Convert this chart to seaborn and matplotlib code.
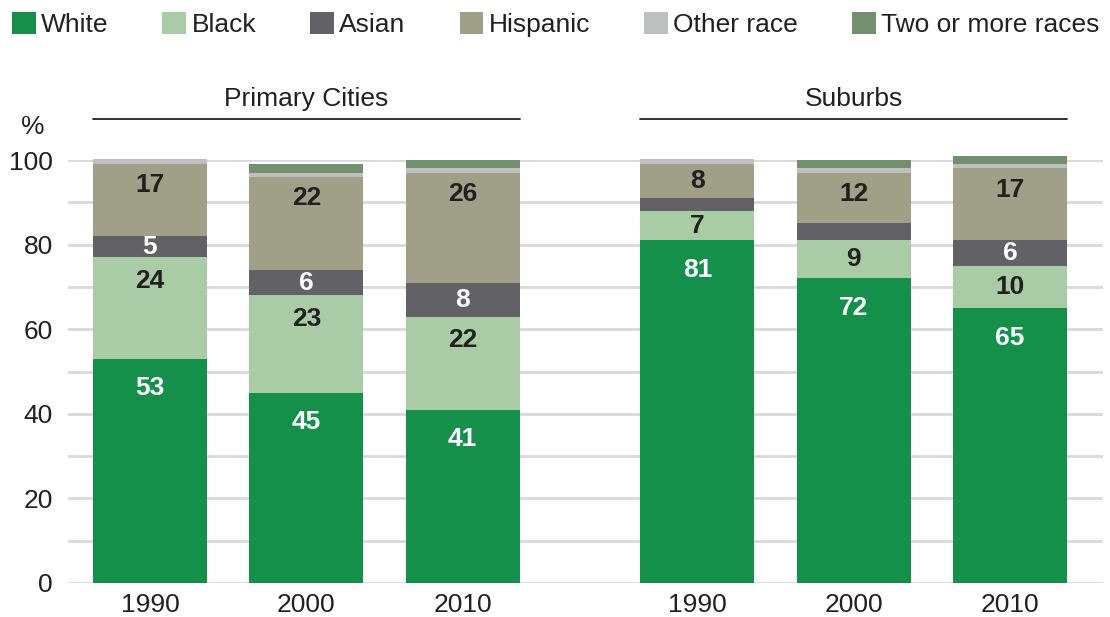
import pandas as pd
import matplotlib.pyplot as plt
import seaborn as sns
from matplotlib.patches import Patch

# ── Data (percent of population by race/ethnicity) ─────────────────────────
groups = ["Primary Cities", "Suburbs"]
years = ["1990", "2000", "2010", "1990", "2000", "2010"]
positions = [0, 1, 2, 3.5, 4.5, 5.5]
white = [53, 45, 41, 81, 72, 65]
black = [24, 23, 22, 7, 9, 10]
asian = [5, 6, 8, 3, 4, 6]
hispanic = [17, 22, 26, 8, 12, 17]
other = [1.2, 1, 1, 1.2, 1, 1]
two_plus = [0, 2, 2, 0, 2, 2]

series = ["White", "Black", "Asian", "Hispanic", "Other race", "Two or more races"]
colors = ["#15904A", "#A9CBA6", "#616166", "#A09F87", "#BEBFC0", "#728F6E"]
label_colors = ["white", "#231F20", "white", "#231F20", None, None]
# how far below a segment's top its label sits (units), unless centred is lower
label_drop = [7, 5.5, 5.5, 5, 0, 0]

df = pd.DataFrame({"pos": positions, "year": years, "White": white, "Black": black,
                   "Asian": asian, "Hispanic": hispanic, "Other race": other,
                   "Two or more races": two_plus})
cum = df[series].cumsum(axis=1)

sns.set_theme(style="white")
plt.rcParams["font.family"] = ["Liberation Sans", "DejaVu Sans"]
text_color = "#231F20"
fs = 19

fig = plt.figure(figsize=(11.1, 6.17), dpi=100)
ax = fig.add_axes([68 / 1110, 34 / 617, (1103 - 68) / 1110, (583 - 160) / 617])

# draw cumulative totals from the top layer down so each layer covers the next
for name, color in reversed(list(zip(series, colors))):
    sns.barplot(x=df["pos"], y=cum[name], native_scale=True, color=color,
                saturation=1, width=0.73, linewidth=0, errorbar=None, ax=ax)
for p in ax.patches:
    p.set_clip_on(False)

# segment labels
for name, lc, drop in zip(series, label_colors, label_drop):
    if lc is None:
        continue
    for i, row in df.iterrows():
        val = row[name]
        if val < 5:
            continue
        top = cum.loc[i, name]
        y = max(top - val / 2, top - drop)
        ax.text(row["pos"], y, f"{val:.0f}", ha="center", va="center",
                fontsize=fs, fontweight="bold", color=lc)

ax.set_xlim(-0.524, 6.094)
ax.set_ylim(0, 100)
ax.set_yticks(range(0, 101, 20))
ax.set_yticks(range(10, 100, 20), minor=True)
ax.set_xticks(positions)
ax.set_xticklabels(years)
ax.set_xlabel("")
ax.set_ylabel("")
ax.grid(True, axis="y", which="both", color="#D9D9D9", linewidth=2)
ax.grid(False, axis="x")
ax.set_axisbelow(True)
sns.despine(ax=ax, left=True, bottom=True)
ax.tick_params(axis="both", which="both", length=0, labelsize=fs, colors=text_color)
ax.tick_params(axis="y", pad=11)
ax.tick_params(axis="x", pad=7)

# group headers with underline
half = 0.73 / 2
for name, idx in zip(groups, [(0, 2), (3, 5)]):
    x0 = positions[idx[0]] - half
    x1 = positions[idx[1]] + half
    ax.plot([x0, x1], [109.7, 109.7], color=text_color, linewidth=1.3, clip_on=False)
    ax.text((x0 + x1) / 2, 114.4, name, ha="center", va="center",
            fontsize=fs, color=text_color, clip_on=False)

fig.text(33 / 1110, 1 - 127 / 617, "%", ha="center", va="center",
         fontsize=fs, color=text_color)

handles = [Patch(facecolor=c, edgecolor="none") for c in colors]
fig.legend(handles, series, loc="upper left", bbox_to_anchor=(-0.006, 1.01),
           ncol=6, frameon=False, fontsize=fs, handlelength=0.9, handleheight=0.9,
           handletextpad=0.2, columnspacing=2.05, borderaxespad=0.3,
           labelcolor=text_color)

fig.savefig("out.png", dpi=100)
plt.close(fig)
